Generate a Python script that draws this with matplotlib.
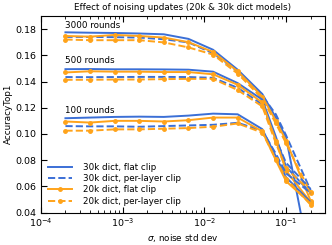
import matplotlib
matplotlib.use("Agg")
import matplotlib.pyplot as plt

# noise std dev values
sigma = [0.0002, 0.0004, 0.0008, 0.0016, 0.0032, 0.0064, 0.0128, 0.0256, 0.0512, 0.075, 0.1, 0.2]

rounds = ["3000 rounds", "500 rounds", "100 rounds"]
label_y = [0.1827, 0.1558, 0.1177]

acc_30k_flat = [
    [0.1775, 0.1772, 0.1770, 0.1766, 0.1760, 0.1725, 0.1642, 0.1490, 0.1305, 0.1125, 0.0975, 0.0010],
    [0.1494, 0.1495, 0.1493, 0.1493, 0.1492, 0.1490, 0.1475, 0.1388, 0.1262, 0.0980, 0.0750, 0.0550],
    [0.1120, 0.1125, 0.1130, 0.1132, 0.1130, 0.1140, 0.1155, 0.1150, 0.1037, 0.0830, 0.0670, 0.0480],
]
acc_30k_layer = [
    [0.1740, 0.1740, 0.1738, 0.1735, 0.1722, 0.1698, 0.1615, 0.1478, 0.1292, 0.1150, 0.0990, 0.0570],
    [0.1434, 0.1433, 0.1434, 0.1435, 0.1435, 0.1434, 0.1428, 0.1352, 0.1225, 0.0960, 0.0780, 0.0580],
    [0.1060, 0.1058, 0.1058, 0.1055, 0.1060, 0.1065, 0.1070, 0.1085, 0.1025, 0.0850, 0.0700, 0.0550],
]
acc_20k_flat = [
    [0.1747, 0.1742, 0.1755, 0.1747, 0.1735, 0.1700, 0.1625, 0.1478, 0.1285, 0.1100, 0.0950, 0.0490],
    [0.1469, 0.1478, 0.1475, 0.1475, 0.1472, 0.1472, 0.1455, 0.1375, 0.1240, 0.0950, 0.0720, 0.0480],
    [0.1095, 0.1087, 0.1100, 0.1100, 0.1095, 0.1105, 0.1125, 0.1125, 0.1020, 0.0800, 0.0640, 0.0470],
]
acc_20k_layer = [
    [0.1720, 0.1715, 0.1715, 0.1715, 0.1698, 0.1660, 0.1605, 0.1460, 0.1270, 0.1080, 0.0930, 0.0550],
    [0.1413, 0.1413, 0.1415, 0.1415, 0.1418, 0.1420, 0.1420, 0.1335, 0.1210, 0.0930, 0.0740, 0.0560],
    [0.1025, 0.1025, 0.1035, 0.1035, 0.1040, 0.1045, 0.1055, 0.1080, 0.1010, 0.0810, 0.0660, 0.0460],
]

blue = "#3b6fd6"
orange = "#ffa31a"
fs = 6.3

fig = plt.figure(figsize=(3.32, 2.45), dpi=100)
ax = fig.add_axes([0.123, 0.132, 0.856, 0.803])

for i in range(len(rounds)):
    first = i == 0
    ax.plot(sigma, acc_30k_flat[i], color=blue, lw=1.4, ls="-",
            label="30k dict, flat clip" if first else None)
    ax.plot(sigma, acc_30k_layer[i], color=blue, lw=1.4, ls="--",
            label="30k dict, per-layer clip" if first else None)
    ax.plot(sigma, acc_20k_flat[i], color=orange, lw=1.4, ls="-", marker="o", ms=2.5,
            mec=orange, label="20k dict, flat clip" if first else None)
    ax.plot(sigma, acc_20k_layer[i], color=orange, lw=1.4, ls="--", marker="o", ms=2.5,
            mec=orange, label="20k dict, per-layer clip" if first else None)
    ax.text(sigma[0], label_y[i], rounds[i], fontsize=fs, va="center", ha="left")

ax.set_xscale("log")
ax.set_xlim(1e-4, 0.3)
ax.set_ylim(0.04, 0.19)
ax.set_yticks([0.04, 0.06, 0.08, 0.10, 0.12, 0.14, 0.16, 0.18])
ax.set_yticklabels(["0.04", "0.06", "0.08", "0.10", "0.12", "0.14", "0.16", "0.18"])
ax.tick_params(which="both", direction="in", top=True, right=True, labelsize=6.8)
ax.tick_params(which="major", length=4, pad=3)
ax.tick_params(which="minor", length=2)

ax.set_title("Effect of noising updates (20k & 30k dict models)", fontsize=fs, pad=4)
ax.set_xlabel(r"$\sigma$, noise std dev", fontsize=fs, labelpad=2)
ax.set_ylabel("AccuracyTop1", fontsize=fs, labelpad=2)

ax.legend(loc="lower left", frameon=False, fontsize=fs, handlelength=2.8,
          labelspacing=0.25, borderaxespad=0.4, handletextpad=1.2)

fig.savefig("out.png", dpi=100)
